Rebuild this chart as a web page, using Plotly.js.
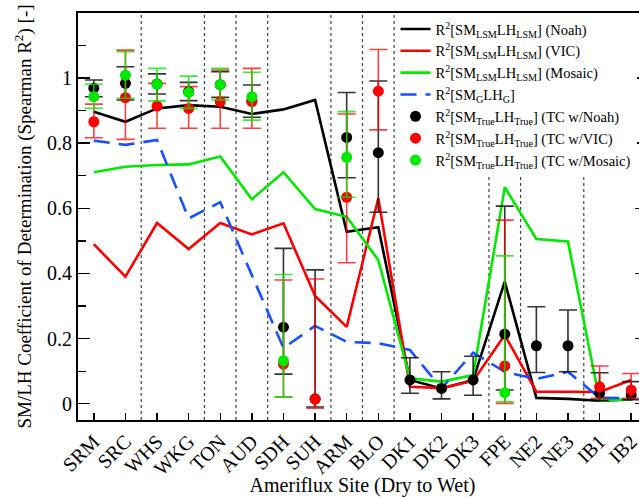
<!DOCTYPE html>
<html>
<head>
<meta charset="utf-8">
<script src="https://cdn.plot.ly/plotly-3.0.1.min.js"></script>
<style>
html,body{margin:0;padding:0;overflow:hidden;background:#fff;}
#chart{width:650px;height:497px;}
</style>
</head>
<body>
<div id="chart"></div>
<script>
// ---- data ----
const sites = ['SRM','SRC','WHS','WKG','TON','AUD','SDH','SUH','ARM','BLO','DK1','DK2','DK3','FPE','NE2','NE3','IB1','IB2'];

const lsmNoah   = [0.897,0.866,0.907,0.917,0.912,0.890,0.904,0.933,0.528,0.542,0.073,0.047,0.073,0.375,0.018,0.015,0.009,0.013];
const lsmVic    = [0.490,0.390,0.555,0.475,0.555,0.520,0.554,0.331,0.236,0.631,0.052,0.048,0.070,0.211,0.037,0.036,0.036,0.073];
const lsmMosaic = [0.711,0.728,0.733,0.735,0.759,0.628,0.711,0.598,0.574,0.441,0.078,0.068,0.088,0.665,0.506,0.498,0.011,0.013];
const gauge     = [0.808,0.795,0.810,0.569,0.619,0.395,0.171,0.239,0.190,0.186,0.165,0.047,0.157,0.098,0.076,0.098,0.018,0.017];

const tcNoah    = [0.969,0.984,0.982,0.959,0.980,0.930,0.235,0.015,0.818,0.771,0.073,0.047,0.073,0.214,0.178,0.178,0.032,0.027];
const tcNoahHi  = [0.994,1.035,1.013,0.987,1.020,0.979,0.477,0.411,0.956,0.991,0.141,0.098,0.146,0.607,0.298,0.288,0.095,0.068];
const tcNoahLo  = [0.943,0.933,0.951,0.931,0.941,0.880,0.091,-0.010,0.694,0.588,0.032,0.015,0.026,0.042,0.096,0.098,0.010,0.012];

const tcVic     = [0.866,0.940,0.914,0.907,0.928,0.928,0.122,0.014,0.634,0.960,null,null,null,0.116,null,null,0.052,0.042];
const tcVicHi   = [0.920,1.086,0.984,0.974,1.025,1.030,0.380,0.383,0.890,1.088,null,null,null,0.564,null,null,0.116,0.093];
const tcVicLo   = [0.817,0.812,0.846,0.846,0.846,0.846,0.021,-0.014,0.433,0.841,null,null,null,0.001,null,null,0.017,0.017];

const tcMos     = [0.943,1.009,0.981,0.956,0.979,0.943,0.132,null,0.757,null,null,null,null,0.034,null,null,null,null];
const tcMosHi   = [0.981,1.081,1.030,1.006,1.030,1.018,0.397,null,0.897,null,null,null,null,0.454,null,null,null,null];
const tcMosLo   = [0.907,0.938,0.930,0.907,0.933,0.871,0.021,null,0.634,null,null,null,null,0.006,null,null,null,null];

const yTickVals = [0,0.2,0.4,0.6,0.8,1];
const yTickText = ['0','0.2','0.4','0.6','0.8','1'];
const groupBreaks = [1.5,3.5,4.5,5.5,7.5,8.5,9.5,12.5,13.5,15.5];

// ---- helpers ----
const up = (v,hi) => v.map((d,i)=> d==null||hi[i]==null ? null : hi[i]-d);
const dn = (v,lo) => v.map((d,i)=> d==null||lo[i]==null ? null : d-lo[i]);

const FONT = 'Liberation Serif';
const GREEN = '#00ea00';

function lineTrace(y, name, color, dash){
  return {x:sites, y:y, name:name, type:'scatter', mode:'lines',
    line:{color:color, width:2.6, dash:dash||'solid'}};
}
function ptTrace(y, hi, lo, name, color, ecolor){
  return {x:sites, y:y, name:name, type:'scatter', mode:'markers',
    marker:{color:color, size:11},
    error_y:{type:'data', symmetric:false, array:up(y,hi), arrayminus:dn(y,lo),
      color:ecolor, thickness:1.6, width:9}};
}

const data = [
  lineTrace(lsmNoah,  'R<sup>2</sup>[SM<sub>LSM</sub>LH<sub>LSM</sub>] (Noah)', '#000000'),
  lineTrace(lsmVic,   'R<sup>2</sup>[SM<sub>LSM</sub>LH<sub>LSM</sub>] (VIC)', '#ff0000'),
  lineTrace(lsmMosaic,'R<sup>2</sup>[SM<sub>LSM</sub>LH<sub>LSM</sub>] (Mosaic)', GREEN),
  lineTrace(gauge,    'R<sup>2</sup>[SM<sub>G</sub>LH<sub>G</sub>]', '#1450ff', '16px,9px'),
  ptTrace(tcNoah, tcNoahHi, tcNoahLo, 'R<sup>2</sup>[SM<sub>True</sub>LH<sub>True</sub>] (TC w/Noah)', '#000000', 'rgba(0,0,0,0.8)'),
  ptTrace(tcVic,  tcVicHi,  tcVicLo,  'R<sup>2</sup>[SM<sub>True</sub>LH<sub>True</sub>] (TC w/VIC)', '#ff0000', 'rgba(255,0,0,0.75)'),
  ptTrace(tcMos,  tcMosHi,  tcMosLo,  'R<sup>2</sup>[SM<sub>True</sub>LH<sub>True</sub>] (TC w/Mosaic)', GREEN, 'rgba(0,234,0,0.8)')
];

const shapes = groupBreaks.map(b => ({type:'line', xref:'x', yref:'paper', x0:b, x1:b, y0:0, y1:1,
  layer:'below', line:{color:'#444', width:1.2, dash:'dot'}}));

const layout = {
  width:650, height:497,
  margin:{l:78, r:3, t:13, b:77},
  paper_bgcolor:'#fff', plot_bgcolor:'#fff',
  font:{family:FONT, color:'#000', size:20},
  showlegend:true,
  legend:{x:0.558, y:1, xanchor:'left', yanchor:'top', bgcolor:'#fff', borderwidth:0,
    font:{family:FONT, size:14.5}, tracegroupgap:0},
  xaxis:{type:'category', range:[-0.5,17.5], showgrid:false, zeroline:false,
    showline:true, linecolor:'#000', linewidth:2, mirror:true,
    ticks:'inside', ticklen:7, tickwidth:1.5, tickcolor:'#000',
    tickangle:-45, automargin:false, tickfont:{family:FONT, size:20},
    title:{text:'Ameriflux Site (Dry to Wet)', font:{family:FONT, size:20}, standoff:8}},
  yaxis:{range:[-0.05,1.2], showgrid:false, zeroline:false, automargin:false,
    showline:true, linecolor:'#000', linewidth:2, mirror:'ticks',
    ticks:'inside', ticklen:12, tickwidth:1.5, tickcolor:'#000',
    tickvals:yTickVals, ticktext:yTickText, tickfont:{family:FONT, size:20},
    minor:{dtick:0.1, tick0:0, ticks:'inside', ticklen:8, tickwidth:1.2, tickcolor:'#000'},
    title:{text:'SM/LH Coefficient of Determination (Spearman R<sup>2</sup>) [-]', font:{family:FONT, size:19}, standoff:10}},
  shapes:shapes
};

Plotly.newPlot('chart', data, layout, {displayModeBar:false, staticPlot:true});
</script>
</body>
</html>
